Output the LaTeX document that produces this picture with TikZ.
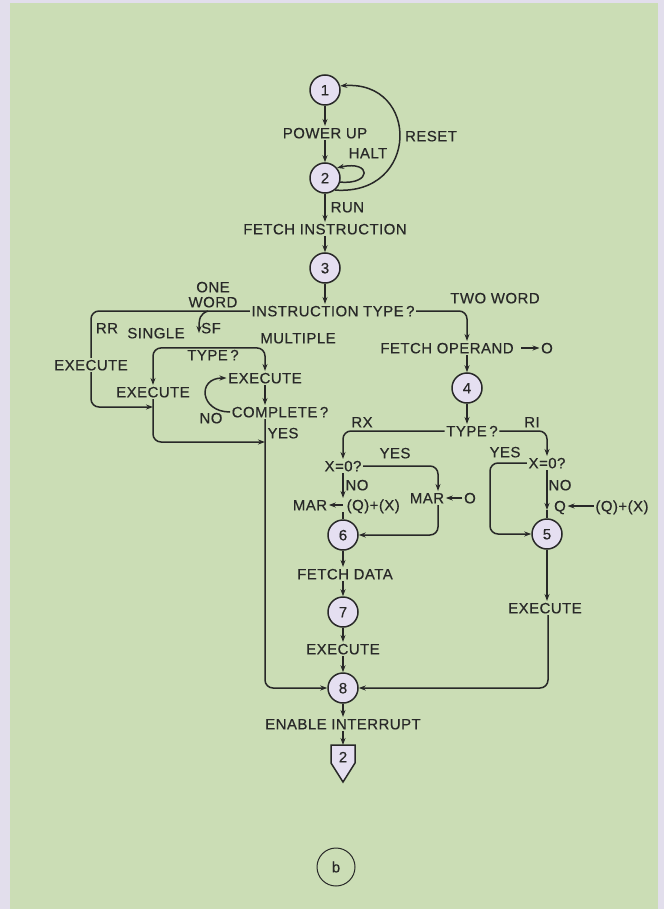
\documentclass[tikz,border=0pt]{standalone}
\usepackage{fontspec}
\setmainfont[LetterSpace=3,FakeBold=0.4]{Liberation Sans}
\usetikzlibrary{arrows.meta}
\definecolor{bggreen}{RGB}{203,221,181}
\definecolor{lav}{RGB}{226,222,236}
\definecolor{circfill}{RGB}{229,223,241}
\definecolor{ink}{RGB}{40,40,40}
\begin{document}
\begin{tikzpicture}[x=1pt,y=-1pt,>={Stealth[length=7pt,width=5pt]},
  every node/.style={font=\fontsize{15}{17}\selectfont, text=ink, inner sep=1.5pt, text height=10.7pt, text depth=0pt},
  state/.style={circle, draw=ink, fill=circfill, line width=1.5pt, minimum size=30pt, inner sep=0pt},
  ln/.style={draw=ink, line width=1.5pt},
  rc/.style={rounded corners=8pt}]
\fill[lav] (0,0) rectangle (664,909);
\fill[bggreen] (10,3) rectangle (658,909);
\useasboundingbox (0,0) rectangle (664,909);

% top column
\node[state] (c1) at (325,90) {1};
\node (pu) at (325,133) {POWER UP};
\node[state] (c2) at (325,178) {2};
\node (halt) at (368,153) {HALT};
\node (reset) at (431,136) {RESET};
\node[anchor=west] (run) at (329,207) {RUN};
\node (fi) at (325,229) {FETCH INSTRUCTION};
\node[state] (c3) at (325,268) {3};
\node (it) at (333,311) {INSTRUCTION TYPE\,?};

% left branch
\node (one) at (213,287) {ONE};
\node (word) at (213,302) {WORD};
\node (rr) at (107,328) {RR};
\node (sf) at (211,328) {SF};
\node (single) at (156,333) {SINGLE};
\node (multiple) at (298,338) {MULTIPLE};
\node (type1) at (213,355) {TYPE\,?};
\node (exL) at (91,365) {EXECUTE};
\node (exM) at (153,392) {EXECUTE};
\node (exI) at (265,378) {EXECUTE};
\node (comp) at (280,412) {COMPLETE\,?};
\node (no1) at (211,418) {NO};
\node (yes1) at (283,433) {YES};

% right branch
\node (twoword) at (495,298) {TWO WORD};
\node (fo) at (447,348) {FETCH OPERAND};
\node (o1) at (547,348) {O};
\node[state] (c4) at (467,388) {4};
\node (type2) at (472,431) {TYPE\,?};
\node (rx) at (362,422) {RX};
\node (ri) at (532,422) {RI};

\node (x0L) at (343,466) {X=0?};
\node (yesL) at (395,453) {YES};
\node (noL) at (357,485) {NO};
\node (marL) at (310,505) {MAR};
\node[anchor=west] (qxL) at (345,505) {(Q)+(X)};
\node (marR) at (427,498) {MAR};
\node (oR) at (470,498) {O};
\node[state] (c6) at (343,535) {6};
\node (fd) at (345,574) {FETCH DATA};
\node[state] (c7) at (343,612) {7};
\node (ex7) at (343,649) {EXECUTE};
\node[state] (c8) at (343,688) {8};
\node (ei) at (343,724) {ENABLE INTERRUPT};

\node (x0R) at (547,463) {X=0?};
\node (yesR) at (505,452) {YES};
\node (noR) at (560,485) {NO};
\node (qR) at (560,506) {Q};
\node (qxR) at (622,506) {(Q)+(X)};
\node[state] (c5) at (547,534) {5};
\node (exR) at (545,608) {EXECUTE};

% connector end coordinates
\coordinate (jRR) at (153,407);
\coordinate (jS) at (265,442);
\coordinate (yx) at (490,534);
\coordinate (qtip) at (547,510);
\coordinate (mcol) at (438,498);
\coordinate (rcol) at (548,608);
\coordinate (pent) at (343,745);
\coordinate (sfs) at (208,311);
\coordinate (sfe) at (199,333);

% pentagon connector
\draw[ln, fill=circfill] (331,745) -- (355,745) -- (355,763) -- (343,782) -- (331,763) -- cycle;
\node (p2) at (343,757) {2};

% figure label
\node[circle, draw=ink, line width=1pt, minimum size=38pt, inner sep=0pt] (lb) at (336,867) {b};

% top connectors
\draw[ln,->] (c1.south) -- (pu.north);
\draw[ln,->] (pu.south) -- (c2.north);
\draw[ln,->] (c2.-15) .. controls (372,185) and (372,160) .. (c2.40);
\draw[ln,->] (c2.-50) .. controls (420,196) and (420,80) .. (c1.15);
\draw[ln,->] (c2.south) -- (c2 |- fi.north);
\draw[ln,->] (fi.south) -- (c3.north);
\draw[ln,->] (c3.south) -- (c3 |- it.north);

% left branch connectors
\draw[ln,rc] (it.west) -| (exL.north);
\draw[ln,rc,->] (exL.south) |- (jRR);
\draw[ln,rc,->] (exM.south) |- (jS);
\draw[ln,->] (sfs) .. controls (200,314) and (199,318) .. (sfe);
\draw[ln,rc,<->] (exM.north) |- (exI.north |- type1.north) -- (exI.north);
\draw[ln,->] (exI.south) -- (exI.south |- comp.north);
\draw[ln,->] (comp.west) .. controls +(-30,0) and +(-30,0) .. (exI.west);
\draw[ln,rc,->] (exI.south |- comp.south) |- (c8.west);

% right branch connectors
\draw[ln,rc,->] (it.east) -| (c4 |- fo.north);
\draw[ln,->] ([xshift=6pt]fo.east) -- (o1.west);
\draw[ln,->] (c4 |- fo.south) -- (c4.north);
\draw[ln,->] (c4.south) -- (c4 |- type2.north);
\draw[ln,rc,->] (type2.west) -| (x0L.north);
\draw[ln,rc,->] (type2.east) -| (x0R.north);

\draw[ln,rc,->] (x0L.east) -| (mcol |- marR.north);
\draw[ln,->] (x0L.south) -- (x0L.south |- qxL.north);
\draw[ln,->] (x0L.south |- qxL.west) -- (marL.east);
\draw[ln] (x0L.south |- qxL.south) -- (c6.north);
\draw[ln,rc,->] (mcol |- marR.south) |- (c6.east);
\draw[ln,->] (oR.west) -- (marR.east);
\draw[ln,->] (c6.south) -- (c6 |- fd.north);
\draw[ln,->] (c6 |- fd.south) -- (c7.north);
\draw[ln,->] (c7.south) -- (ex7.north);
\draw[ln,->] (ex7.south) -- (c8.north);
\draw[ln,->] (c8.south) -- (ei.north);
\draw[ln,->] (ei.south) -- (pent);

\draw[ln,rc,->] (x0R.west) -| (yx) -- (c5.west);
\draw[ln,->] (x0R.south) -- (qtip);
\draw[ln,->] (qxR.west) -- (qR.east);
\draw[ln] (qtip) -- (c5.north);
\draw[ln,->] (c5.south) -- (c5 |- exR.north);
\draw[ln,rc,->] (rcol |- exR.south) |- (c8.east);
\end{tikzpicture}
\end{document}
